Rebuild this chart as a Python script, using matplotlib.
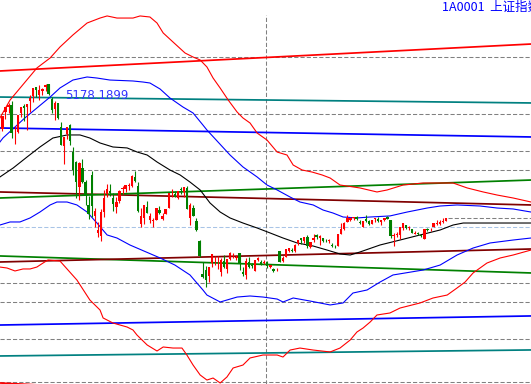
import numpy as np
import matplotlib
matplotlib.use("Agg")
import matplotlib.pyplot as plt

# daily candles, index 0 = first bar on the left
opens = [4536, 4661, 4855, 4914, 4943, 4603, 4633, 4844, 4924, 4912,
         4979, 5046, 5146, 5049, 5102, 5143, 5174, 5004, 4890, 4966,
         4690, 4471, 4604, 4711, 4400, 4289, 3997, 4214, 4059, 3793,
         4132, 3665, 3468, 3432, 3707, 3915, 3950, 3874, 3766, 3843,
         3971, 3980, 4010, 4010, 4109, 4006, 3573, 3643, 3770, 3618,
         3609, 3620, 3734, 3627, 3687, 3760, 3925, 3917, 3869, 3976,
         3940, 3986, 3646, 3754, 3609, 3373, 3004, 3047, 2978, 3125,
         3204, 3157, 3027, 3149, 3054, 3172, 3190, 3189, 3238, 3019,
         2992, 3137, 3098, 3038, 3166, 3140, 3128, 3139, 3081, 3052,
         3052, 3262, 3146, 3200, 3265, 3272, 3259, 3361, 3411, 3379,
         3428, 3308, 3392, 3443, 3410, 3414, 3389, 3378, 3337, 3326,
         3325, 3459, 3514, 3601, 3620, 3642, 3656, 3601, 3538, 3630,
         3605, 3579, 3629, 3631, 3602, 3614, 3659, 3616, 3433, 3442,
         3450, 3525, 3558, 3528, 3515, 3462, 3467, 3446, 3403, 3511,
         3511, 3536, 3576, 3573, 3598, 3612]
highs = [4658, 4814, 4911, 4958, 4986, 4698, 4829, 4911, 4951, 4947,
         5052, 5131, 5147, 5164, 5130, 5178, 5176, 5029, 4985, 4966,
         4744, 4577, 4691, 4720, 4456, 4297, 4287, 4318, 4080, 3895,
         4184, 3757, 3600, 3749, 3959, 4030, 4036, 3929, 3881, 3961,
         4006, 4023, 4041, 4132, 4185, 4052, 3757, 3797, 3837, 3698,
         3640, 3757, 3783, 3697, 3746, 3930, 3970, 3952, 3956, 4001,
         3994, 4006, 3810, 3788, 3640, 3388, 3142, 3092, 3084, 3233,
         3206, 3201, 3183, 3218, 3174, 3257, 3243, 3223, 3239, 3079,
         3182, 3194, 3129, 3157, 3199, 3165, 3164, 3151, 3103, 3073,
         3074, 3263, 3208, 3288, 3298, 3298, 3339, 3394, 3411, 3425,
         3448, 3368, 3460, 3456, 3450, 3417, 3402, 3397, 3357, 3332,
         3459, 3585, 3596, 3678, 3649, 3654, 3662, 3621, 3607, 3678,
         3618, 3618, 3640, 3654, 3616, 3648, 3668, 3621, 3471, 3483,
         3538, 3585, 3567, 3549, 3518, 3497, 3484, 3451, 3521, 3528,
         3530, 3583, 3617, 3618, 3640, 3648]
lows = [4520, 4640, 4775, 4850, 4557, 4494, 4616, 4797, 4759, 4647,
        4855, 4978, 5035, 5001, 5050, 5103, 5048, 4842, 4767, 4780,
        4476, 4265, 4551, 4483, 4140, 3875, 3847, 4043, 3795, 3630,
        3653, 3540, 3421, 3373, 3656, 3882, 3893, 3728, 3696, 3812,
        3921, 3939, 3961, 3999, 4056, 3717, 3537, 3577, 3700, 3584,
        3537, 3616, 3684, 3620, 3687, 3760, 3888, 3886, 3862, 3918,
        3889, 3745, 3558, 3661, 3491, 3191, 2952, 2851, 2906, 3086,
        3109, 3053, 2983, 3066, 3011, 3165, 3178, 3165, 3049, 2983,
        2938, 3071, 3070, 3031, 3145, 3104, 3118, 3068, 3064, 3025,
        3039, 3138, 3142, 3192, 3256, 3257, 3250, 3332, 3340, 3358,
        3297, 3293, 3372, 3396, 3338, 3370, 3365, 3355, 3308, 3302,
        3325, 3455, 3508, 3601, 3607, 3615, 3617, 3573, 3535, 3601,
        3567, 3573, 3600, 3598, 3563, 3605, 3629, 3412, 3327, 3423,
        3399, 3508, 3518, 3508, 3466, 3454, 3451, 3421, 3397, 3496,
        3498, 3536, 3567, 3565, 3590, 3605]
closes = [4657, 4813, 4910, 4941, 4620, 4611, 4828, 4910, 4909, 4947,
          5023, 5131, 5113, 5106, 5121, 5166, 5062, 4887, 4967, 4786,
          4478, 4576, 4690, 4527, 4192, 4053, 4277, 4053, 3912, 3686,
          3775, 3727, 3507, 3709, 3877, 3970, 3924, 3805, 3823, 3957,
          3992, 4017, 4026, 4124, 4070, 3725, 3663, 3789, 3705, 3664,
          3622, 3756, 3695, 3661, 3744, 3928, 3928, 3887, 3955, 3965,
          3993, 3748, 3794, 3664, 3507, 3210, 2965, 2927, 3084, 3232,
          3206, 3166, 3160, 3080, 3170, 3243, 3197, 3200, 3114, 3005,
          3152, 3086, 3097, 3156, 3185, 3115, 3142, 3092, 3100, 3038,
          3053, 3143, 3183, 3287, 3293, 3262, 3338, 3391, 3386, 3425,
          3320, 3368, 3412, 3429, 3434, 3375, 3387, 3382, 3325, 3316,
          3459, 3522, 3590, 3646, 3640, 3650, 3632, 3580, 3606, 3604,
          3568, 3617, 3630, 3610, 3616, 3647, 3635, 3436, 3445, 3456,
          3537, 3584, 3525, 3536, 3470, 3472, 3455, 3434, 3520, 3510,
          3516, 3580, 3578, 3595, 3610, 3643]

# middle line and bands as (bar index, value)
mid_x = [0.2, 4.5, 9, 13.2, 17.4, 22, 26.2, 29.4, 32.7, 36.9, 41.5, 44.7, 48, 51.2,
         55.4, 58.7, 61.9, 65.2, 68.4, 71.7, 74.9, 79.1, 83.7, 87.9, 92.1, 96.7,
         101.9, 106.4, 110.6, 113.9, 117.1, 123.6, 130.1, 136.6, 143.1, 147.3,
         150.6, 160.3, 172.6]
mid_y = [4113, 4216, 4342, 4457, 4560, 4595, 4595, 4560, 4503, 4457, 4446, 4400,
         4365, 4285, 4193, 4136, 4055, 3964, 3815, 3711, 3643, 3585, 3528, 3471,
         3413, 3356, 3321, 3275, 3230, 3218, 3253, 3333, 3390, 3448, 3505, 3562,
         3585, 3585, 3585]

bu_x = [0.2, 1.2, 8.3, 16.5, 19.7, 23.9, 28.5, 31.7, 35.9, 43.4, 46.7, 48.9, 52.2,
        55.4, 59.6, 62.9, 66.1, 67.4, 74.9, 79.1, 83.7, 86.9, 90.2, 94.4, 97.6,
        101.9, 105.1, 108.3, 111.6, 116.1, 120.4, 126.8, 132.4, 138.9, 143.1,
        148.6, 156.1, 161.6, 166.8, 172.6]
bu_y = [4514, 4560, 4790, 5030, 5134, 5225, 5260, 5248, 5225, 5214, 5202, 5191,
        5122, 5019, 4916, 4847, 4709, 4652, 4365, 4228, 4113, 4021, 3964, 3883,
        3826, 3792, 3734, 3700, 3654, 3643, 3654, 3666, 3711, 3757, 3780, 3792,
        3780, 3757, 3746, 3711]

bl_x = [0.2, 3.5, 6.7, 10, 13.2, 16.5, 18.7, 22, 25.2, 28.5, 31.7, 35, 38.2, 42.4,
        44.7, 52.2, 57, 61.9, 66.1, 67.4, 71.7, 77.2, 81.4, 85.6, 90.2, 92.1,
        95.4, 100.9, 107.4, 111.6, 114.8, 119.4, 123.6, 127.8, 137.6, 143.1,
        148.6, 153.8, 159.3, 166.8, 172.6]
bl_y = [3562, 3597, 3597, 3643, 3711, 3792, 3826, 3826, 3792, 3711, 3585, 3448,
        3413, 3333, 3298, 3184, 3103, 2989, 2817, 2759, 2679, 2736, 2748, 2736,
        2713, 2679, 2725, 2690, 2645, 2668, 2782, 2817, 2908, 2989, 3046, 3103,
        3218, 3298, 3356, 3390, 3413]

ru_x = [0.2, 3.5, 12.2, 16.5, 19.7, 23.9, 28.5, 32.7, 35, 38.2, 43.4, 45.7, 48.9,
        51.2, 53.2, 56.4, 60.3, 62.9, 65.2, 67.4, 69.4, 71.7, 74.3, 77.2, 79.1,
        81.4, 83.7, 86.9, 90.2, 93.4, 95.4, 98.3, 101.5, 104.8, 107.4, 110.6,
        117.1, 122.6, 125.9, 131.1, 137.6, 143.1, 147.3, 151.9, 157.1, 161.6,
        166.8, 172.6]
ru_y = [4790, 4996, 5363, 5478, 5604, 5742, 5879, 5936, 5960, 5936, 5936, 5960,
        5948, 5879, 5765, 5661, 5535, 5489, 5455, 5375, 5248, 5133, 4996, 4858,
        4790, 4732, 4617, 4537, 4399, 4365, 4250, 4193, 4170, 4136, 4101, 4021,
        3987, 3941, 3964, 4021, 4044, 4044, 4044, 3987, 3941, 3906, 3872, 3826]

rl_x = [0.2, 2.5, 5.1, 7.7, 10, 12.2, 14.2, 15.8, 19.7, 25.2, 29.4, 32.7, 33.7,
        36.9, 41.5, 43.4, 44.7, 48, 51.2, 53.2, 56.4, 59.3, 60.9, 62.9, 65.2,
        67.4, 69.4, 71.7, 73.9, 75.9, 79.1, 81.4, 85.6, 90.2, 92.1, 94.4, 97.6,
        101.9, 107.4, 110.6, 113.9, 116.1, 118.1, 120.4, 122.6, 126.8, 130.1,
        136.6, 140.8, 145.4, 148.6, 151.2, 153.8, 158.3, 162.6, 166.8, 172.6]
rl_y = [3080, 3069, 3035, 3058, 3058, 3080, 3126, 3161, 3149, 2931, 2702, 2587,
        2496, 2438, 2392, 2358, 2300, 2186, 2117, 2163, 2151, 2151, 2071, 1956,
        1842, 1784, 1807, 1750, 1819, 1922, 1956, 2037, 2071, 2071, 2048, 2128,
        2151, 2128, 2106, 2151, 2243, 2335, 2381, 2450, 2530, 2553, 2610, 2668,
        2725, 2759, 2840, 2908, 3012, 3126, 3184, 3218, 3275]

# straight channel lines: (value at left edge, value at right edge, colour)
channels = [
    (5329, 5638, "#ff0000"),
    (5030, 4962, "#008080"),
    (4675, 4572, "#0000ff"),
    (3941, 3792, "#800000"),
    (3872, 4078, "#008000"),
    (3207, 3012, "#008000"),
    (3138, 3287, "#800000"),
    (2415, 2519, "#0000ff"),
    (2060, 2129, "#008080"),
    (1750, 1441, "#ff0000"),
]
grid_levels = [5489, 4835, 4411, 4193, 2897, 2679, 2255, 1762]
mid_level = 3539
cursor_idx = 86.6
title = "1A0001  上证指数"

x_left, x_right = 0.23, 172.6
y_bottom, y_top = 1738.5, 6143

fig = plt.figure(figsize=(5.31, 3.84), dpi=100)
ax = fig.add_axes([0, 0, 1, 1])
ax.set_xlim(x_left, x_right)
ax.set_ylim(y_bottom, y_top)
ax.axis("off")

for lv in grid_levels:
    ax.axhline(lv, color="#808080", lw=0.75, ls=(0, (4, 2)), zorder=1)
ax.axhline(mid_level, color="#a8c4e6", lw=0.75, ls=(0, (4, 2)), zorder=1)
ax.vlines(cursor_idx, y_bottom, 5971, color="#808080", lw=0.75,
          linestyles=(0, (4, 2)), zorder=1)

for left, right, col in channels:
    ax.plot([x_left, x_right], [left, right], color=col, lw=1.25, zorder=2)

ax.plot(ru_x, ru_y, color="#ff0000", lw=0.8, zorder=3)
ax.plot(rl_x, rl_y, color="#ff0000", lw=0.8, zorder=3)
ax.plot(bu_x, bu_y, color="#0000ff", lw=0.8, zorder=3)
ax.plot(bl_x, bl_y, color="#0000ff", lw=0.8, zorder=3)
ax.plot(mid_x, mid_y, color="#000000", lw=0.8, zorder=3)

o = np.array(opens); h = np.array(highs); l = np.array(lows); c = np.array(closes)
idx = np.arange(len(c))
up = c >= o
cols = np.where(up, "#ff0000", "#008000")
ax.vlines(idx, l, h, colors=cols, lw=0.8, zorder=4)
body_lo = np.minimum(o, c)
body_h = np.maximum(np.abs(c - o), 8)
ax.bar(idx, body_h, bottom=body_lo, width=0.75, color=cols, linewidth=0, zorder=5)

# last price line
ax.hlines(c[-1], idx[-1] + 0.5, x_right, color="#808080", lw=0.75,
          linestyles=(0, (4, 2)), zorder=1)

imax = int(np.argmax(h))
ax.text(imax + 6.4, h[imax] - 136, "%.4f" % 5178.1899, color="#3333ff",
        fontsize=8.5, family="DejaVu Sans", va="center", ha="left", zorder=6)
ax.text(0.832, 0.982, title, transform=ax.transAxes, color="#0000ff",
        fontsize=9, family=["Noto Sans CJK SC", "DejaVu Sans"],
        va="center", ha="left", zorder=6)

fig.savefig("out.png", dpi=100)
